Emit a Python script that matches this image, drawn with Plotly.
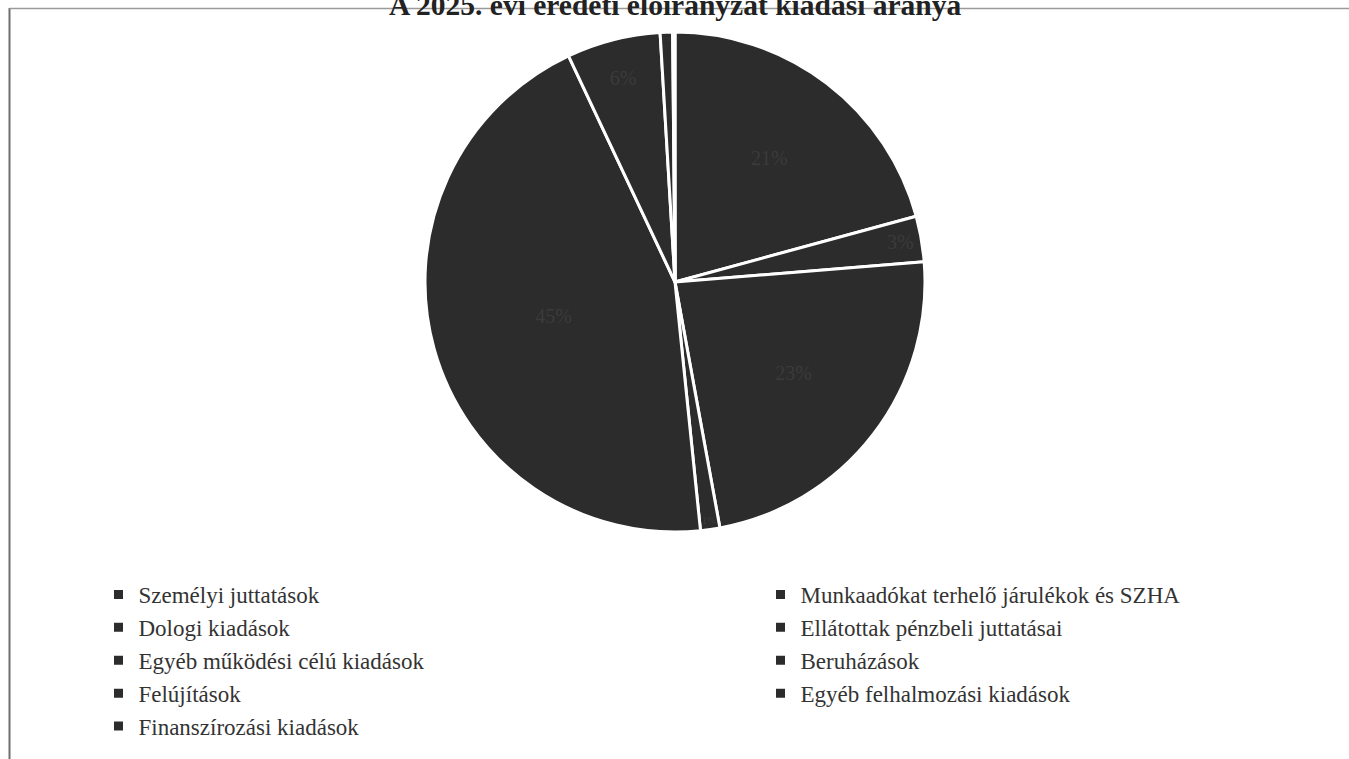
import plotly.graph_objects as go

title_text = "A 2025. évi eredeti előirányzat kiadási aránya"

categories = [
    "Személyi juttatások",
    "Munkaadókat terhelő járulékok és SZHA",
    "Dologi kiadások",
    "Ellátottak pénzbeli juttatásai",
    "Egyéb működési célú kiadások",
    "Beruházások",
    "Felújítások",
    "Egyéb felhalmozási kiadások",
    "Finanszírozási kiadások",
]
shares = [20.75, 2.95, 23.4, 1.25, 44.6, 6.05, 0.8, 0.1, 0.05]

slice_color = "#2c2c2c"

W, H = 1349, 759
cx, cy, r = 675, 282, 250

fig = go.Figure()
fig.add_trace(go.Pie(
    labels=categories,
    values=shares,
    sort=False,
    direction="clockwise",
    rotation=0,
    marker=dict(colors=[slice_color] * len(categories),
                line=dict(color="white", width=3)),
    texttemplate="%{percent:.0%}",
    textposition="inside",
    insidetextorientation="horizontal",
    textfont=dict(color="#3b3b3b", size=20, family="Liberation Serif"),
    domain=dict(x=[(cx - r) / W, (cx + r) / W],
                y=[1 - (cy + r) / H, 1 - (cy - r) / H]),
    hoverinfo="label+percent",
))

fig.update_layout(
    width=W, height=H,
    margin=dict(l=0, r=0, t=0, b=0, autoexpand=False),
    paper_bgcolor="white",
    plot_bgcolor="white",
    showlegend=True,
    legend=dict(
        orientation="h",
        x=0.073, y=1 - 573 / H,
        xanchor="left", yanchor="top",
        entrywidth=617, entrywidthmode="pixels",
        font=dict(family="Liberation Serif", size=23, color="#333333"),
        itemwidth=30,
        tracegroupgap=0,
        bgcolor="rgba(0,0,0,0)",
    ),
    annotations=[dict(
        text="<b>" + title_text + "</b>",
        xref="paper", yref="paper",
        x=0.5, y=1 - 5 / H,
        xanchor="center", yanchor="middle",
        showarrow=False,
        font=dict(family="Liberation Serif", size=29.5, color="#222222"),
    )],
    shapes=[
        dict(type="line", xref="paper", yref="paper",
             x0=9.5 / W, x1=9.5 / W, y0=0, y1=1 - 8 / H,
             line=dict(color="#6e6e6e", width=2)),
        dict(type="line", xref="paper", yref="paper",
             x0=9.5 / W, x1=1, y0=1 - 8.5 / H, y1=1 - 8.5 / H,
             line=dict(color="#9a9a9a", width=1.5)),
    ],
)

fig.write_html("out.html", config={"displayModeBar": False},
               post_script="document.body.style.margin='0';")
